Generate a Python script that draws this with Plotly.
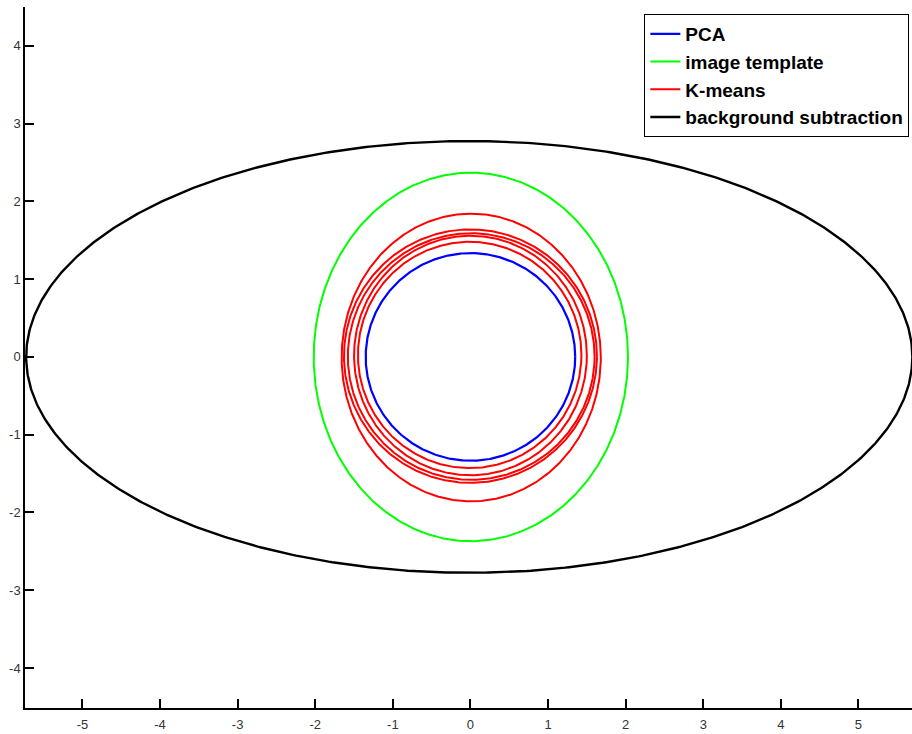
import numpy as np
import plotly.graph_objects as go

# Ellipse parameters: centre (cx, cy), semi-axes (a, b)
pca_cx = [0.0]
pca_cy = [0.0]
pca_a = [1.35]
pca_b = [1.335]

tmpl_cx = [0.005]
tmpl_cy = [0.0]
tmpl_a = [2.025]
tmpl_b = [2.37]

km_cx = [0.01, 0.0, 0.01, 0.0, -0.01]
km_cy = [-0.008, 0.01, 0.005, 0.018, 0.025]
km_a = [1.67, 1.63, 1.59, 1.50, 1.44]
km_b = [1.85, 1.63, 1.585, 1.54, 1.455]

bg_cx = [-0.015]
bg_cy = [0.0]
bg_a = [5.71]
bg_b = [2.776]

x_ticks = [-5, -4, -3, -2, -1, 0, 1, 2, 3, 4, 5]
x_labels = ["-5", "-4", "-3", "-2", "-1", "0", "1", "2", "3", "4", "5"]
y_ticks = [-4, -3, -2, -1, 0, 1, 2, 3, 4]
y_labels = ["-4", "-3", "-2", "-1", "0", "1", "2", "3", "4"]

t = np.linspace(0, 2 * np.pi, 721)


def ellipses(cxs, cys, as_, bs):
    xs, ys = [], []
    for cx, cy, a, b in zip(cxs, cys, as_, bs):
        xs += list(cx + a * np.cos(t)) + [None]
        ys += list(cy + b * np.sin(t)) + [None]
    return xs, ys


series = [
    ("PCA", "#0000ff", pca_cx, pca_cy, pca_a, pca_b, 2.2),
    ("image template", "#00ff00", tmpl_cx, tmpl_cy, tmpl_a, tmpl_b, 2),
    ("K-means", "#ff0000", km_cx, km_cy, km_a, km_b, 2),
    ("background subtraction", "#000000", bg_cx, bg_cy, bg_a, bg_b, 2.4),
]

fig = go.Figure()
for i, (name, color, cx, cy, a, b, w) in enumerate(series):
    xs, ys = ellipses(cx, cy, a, b)
    fig.add_trace(go.Scatter(x=xs, y=ys, mode="lines", name=name,
                             line=dict(color=color, width=w)))

axis_common = dict(showgrid=False, zeroline=False, showline=True,
                   linecolor="black", linewidth=1.5, mirror=False,
                   ticks="inside", ticklen=9, tickwidth=1.5, tickcolor="black",
                   tickfont=dict(family="Liberation Sans, Arial", size=13, color="#333333"))

fig.update_layout(
    width=912, height=734,
    margin=dict(l=25, r=0, t=7, b=26),
    paper_bgcolor="white", plot_bgcolor="white",
    xaxis=dict(range=[-5.74, 5.69], tickvals=x_ticks, ticktext=x_labels,
               ticklabelstandoff=4, **axis_common),
    yaxis=dict(range=[-4.515, 4.5], tickvals=y_ticks, ticktext=y_labels, **axis_common),
    legend=dict(x=0.997, y=0.99, xanchor="right", yanchor="top",
                bgcolor="white", bordercolor="black", borderwidth=1,
                font=dict(family="Liberation Sans, Arial", size=19, color="black", weight="bold")),
    showlegend=True,
)

fig.write_html("out.html", config={"displayModeBar": False},
               post_script="document.body.style.margin='0px';document.body.style.overflow='hidden';")
